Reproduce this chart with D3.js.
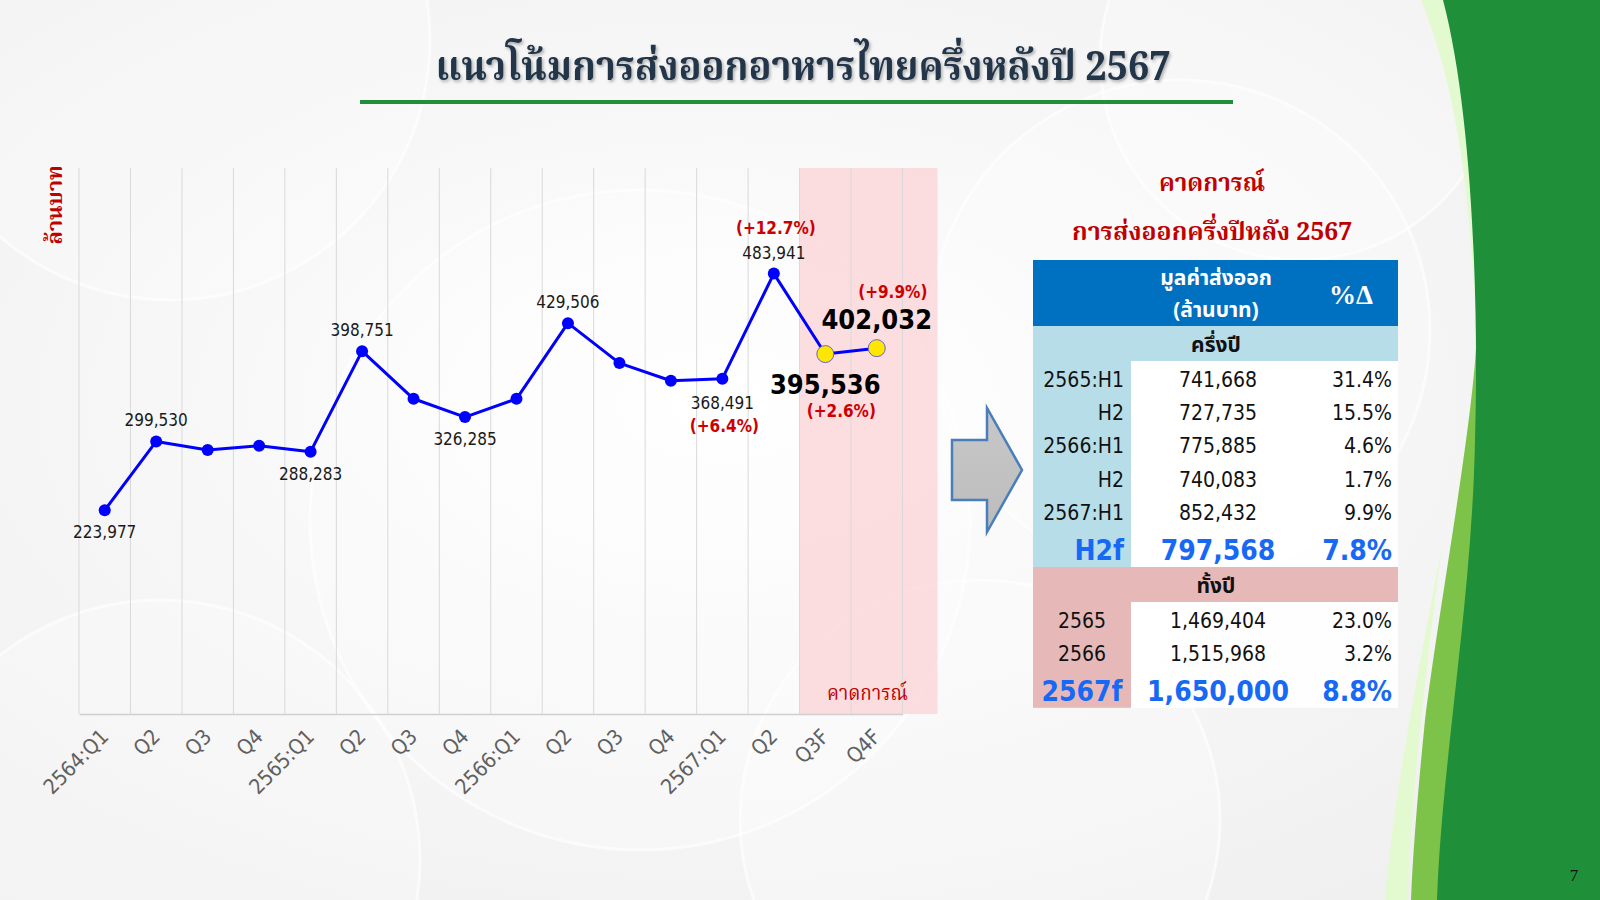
<!DOCTYPE html>
<html>
<head>
<meta charset="utf-8">
<script src="https://cdn.jsdelivr.net/npm/d3@7"></script>
<style>
  html, body { margin: 0; padding: 0; background: #fff; }
  svg { display: block; }
</style>
</head>
<body>
<svg id="slide" width="1600" height="900"></svg>
<script>
// ---- data ----
var quarters = ["2564:Q1", "Q2", "Q3", "Q4", "2565:Q1", "Q2", "Q3", "Q4",
                "2566:Q1", "Q2", "Q3", "Q4", "2567:Q1", "Q2", "Q3F", "Q4F"];
var exportValues = [223977, 299530, 290000, 294800, 288283, 398751, 346400, 326285,
                    346379, 429506, 385600, 366200, 368491, 483941, 395536, 402032];
var forecastFlags = [0, 0, 0, 0, 0, 0, 0, 0, 0, 0, 0, 0, 0, 0, 1, 1];
// which points carry a value label: "a" above, "b" below, "" none
var labelSide = ["b", "a", "", "", "b", "a", "", "b", "", "a", "", "", "b", "a", "b", "a"];
var growthLabels = ["", "", "", "", "", "", "", "", "", "", "", "", "(+6.4%)", "(+12.7%)", "(+2.6%)", "(+9.9%)"];

var halfPeriods = ["2565:H1", "H2", "2566:H1", "H2", "2567:H1", "H2f"];
var halfValues = [741668, 727735, 775885, 740083, 852432, 797568];
var halfGrowth = [31.4, 15.5, 4.6, 1.7, 9.9, 7.8];
var yearPeriods = ["2565", "2566", "2567f"];
var yearValues = [1469404, 1515968, 1650000];
var yearGrowth = [23.0, 3.2, 8.8];

var TITLE = "แนวโน้มการส่งออกอาหารไทยครึ่งหลังปี 2567";
var THAI_SERIF = "'Noto Serif Thai', 'Noto Sans Thai', 'Loma', 'Garuda', 'Tlwg Typo', sans-serif";
var THAI_SANS = "'Noto Sans Thai', 'Loma', 'Garuda', 'Tahoma', 'DejaVu Sans Condensed', 'DejaVu Sans', sans-serif";
var NUM_FONT = "'DejaVu Sans Condensed', 'DejaVu Sans', sans-serif";

var svg = d3.select("#slide");
var fmt = d3.format(",");

// ---- background ----
var defs = svg.append("defs");
var bg = defs.append("radialGradient").attr("id", "bgGrad")
  .attr("cx", "45%").attr("cy", "45%").attr("r", "75%");
bg.append("stop").attr("offset", "0%").attr("stop-color", "#ffffff");
bg.append("stop").attr("offset", "100%").attr("stop-color", "#eeeeee");

var shadow = defs.append("filter").attr("id", "tshadow")
  .attr("x", "-5%").attr("y", "-20%").attr("width", "110%").attr("height", "150%");
shadow.append("feDropShadow").attr("dx", 1.5).attr("dy", 2).attr("stdDeviation", 1.5)
  .attr("flood-color", "#000").attr("flood-opacity", 0.3);

var arrowGrad = defs.append("linearGradient").attr("id", "arrowGrad")
  .attr("x1", "0%").attr("y1", "0%").attr("x2", "0%").attr("y2", "100%");
arrowGrad.append("stop").attr("offset", "0%").attr("stop-color", "#c8c8c8");
arrowGrad.append("stop").attr("offset", "100%").attr("stop-color", "#bcbcbc");

svg.append("rect").attr("width", 1600).attr("height", 900).attr("fill", "url(#bgGrad)");

// faint swirls
var swirls = svg.append("g").attr("class", "swirls");
[[170, 40, 260], [1180, 330, 250], [640, 520, 330], [1300, 60, 200], [160, 860, 260], [980, 820, 240]]
  .forEach(function(c) {
    swirls.append("circle").attr("cx", c[0]).attr("cy", c[1]).attr("r", c[2])
      .attr("fill", "#ffffff").attr("fill-opacity", 0.25)
      .attr("stroke", "#ffffff").attr("stroke-width", 3).attr("stroke-opacity", 0.6);
  });

// right green decoration
var deco = svg.append("g").attr("class", "deco");
deco.append("path").attr("fill", "#e3fad0")
  .attr("d", "M1421,0 C1458,90 1470,200 1476,320 L1484,320 L1484,0 Z");
deco.append("path").attr("fill", "#e3fad0")
  .attr("d", "M1442,545 C1425,640 1395,780 1385,900 L1408,900 C1410,800 1425,680 1442,545 Z");
deco.append("path").attr("fill", "#7dc34a")
  .attr("d", "M1477,330 C1474,420 1440,600 1425,720 C1418,790 1413,850 1411,900 L1482,900 L1482,330 Z");
deco.append("path").attr("fill", "#208f3a")
  .attr("d", "M1443,0 C1472,110 1479,300 1475,440 C1472,600 1442,760 1437,900 L1600,900 L1600,0 Z");

svg.append("text").attr("x", 1574).attr("y", 881)
  .attr("text-anchor", "middle")
  .style("font-family", "'Liberation Serif', serif").style("font-size", "17px")
  .style("fill", "#111").text("7");

// ---- title ----
svg.append("text")
  .attr("x", 803).attr("y", 80)
  .attr("text-anchor", "middle")
  .attr("textLength", 735).attr("lengthAdjust", "spacingAndGlyphs")
  .attr("filter", "url(#tshadow)")
  .style("font-family", THAI_SERIF).style("font-size", "40px").style("font-weight", "bold")
  .style("fill", "#243649")
  .text(TITLE);

svg.append("line").attr("x1", 360).attr("x2", 1233).attr("y1", 102).attr("y2", 102)
  .attr("stroke", "#1f8f3a").attr("stroke-width", 4);

// ---- chart ----
var x = d3.scaleBand().domain(d3.range(quarters.length)).range([79, 902.5]).padding(0);
var y = d3.scaleLinear().domain([0, 600000]).range([714, 168]);
var cx = function(i) { return x(i) + x.bandwidth() / 2; };

var chart = svg.append("g").attr("class", "chart");

// forecast band
var firstF = forecastFlags.indexOf(1);
chart.append("rect")
  .attr("x", x(firstF))
  .attr("y", y.range()[1])
  .attr("width", x.range()[1] - x(firstF) + 35)
  .attr("height", y.range()[0] - y.range()[1])
  .attr("fill", "#fbd3d5").attr("fill-opacity", 0.75);

// vertical gridlines at category boundaries
var bounds = d3.range(quarters.length + 1).map(function(i) { return x.range()[0] + i * x.step(); });
chart.selectAll("line.grid").data(bounds).enter().append("line")
  .attr("class", "grid")
  .attr("x1", function(d) { return d; }).attr("x2", function(d) { return d; })
  .attr("y1", y.range()[1]).attr("y2", y.range()[0])
  .attr("stroke", "#d9d9d9").attr("stroke-width", 1);

// x axis
var xAxis = chart.append("g").attr("transform", "translate(0," + y(0) + ")")
  .call(d3.axisBottom(x).tickSize(0).tickFormat(function(i) { return quarters[i]; }));
xAxis.select(".domain").attr("stroke", "#d0d0d0").attr("stroke-width", 1.5);
xAxis.selectAll(".tick text")
  .attr("text-anchor", "end")
  .attr("transform", "translate(5,24) rotate(-45)")
  .attr("y", 0).attr("dy", 0)
  .style("font-family", NUM_FONT).style("font-size", "21px").style("fill", "#606060");

// y axis title
chart.append("text")
  .attr("transform", "translate(62,205) rotate(-90)")
  .attr("text-anchor", "middle")
  .attr("textLength", 79).attr("lengthAdjust", "spacingAndGlyphs")
  .style("font-family", THAI_SERIF).style("font-size", "22px").style("font-weight", "bold")
  .style("fill", "#c00000")
  .text("ล้านบาท");

chart.append("text")
  .attr("x", 908).attr("y", 700)
  .attr("text-anchor", "end")
  .attr("textLength", 81).attr("lengthAdjust", "spacingAndGlyphs")
  .style("font-family", THAI_SERIF).style("font-size", "21px")
  .style("fill", "#c00000")
  .text("คาดการณ์");

// line
var line = d3.line().x(function(d, i) { return cx(i); }).y(function(d) { return y(d); });
chart.append("path").datum(exportValues)
  .attr("d", line)
  .attr("fill", "none").attr("stroke", "#0000ff").attr("stroke-width", 3)
  .attr("stroke-linejoin", "round");

// markers
chart.selectAll("circle.pt").data(exportValues).enter().append("circle")
  .attr("class", "pt")
  .attr("cx", function(d, i) { return cx(i); })
  .attr("cy", function(d) { return y(d); })
  .attr("r", function(d, i) { return forecastFlags[i] ? 8.5 : 6; })
  .attr("fill", function(d, i) { return forecastFlags[i] ? "#ffe600" : "#0000ff"; })
  .attr("stroke", function(d, i) { return forecastFlags[i] ? "#6a64c8" : "none"; })
  .attr("stroke-width", 1);

// value labels
var labelled = exportValues.map(function(d, i) { return i; })
  .filter(function(i) { return labelSide[i] !== ""; });
chart.selectAll("text.val").data(labelled).enter().append("text")
  .attr("class", "val")
  .attr("x", function(i) { return cx(i); })
  .attr("y", function(i) {
    var off;
    if (forecastFlags[i]) off = labelSide[i] === "a" ? -19 : 40;
    else off = labelSide[i] === "a" ? -15 : (growthLabels[i] ? 30 : 28);
    return y(exportValues[i]) + off;
  })
  .attr("text-anchor", "middle")
  .style("font-family", NUM_FONT)
  .style("font-size", function(i) { return forecastFlags[i] ? "27px" : "17px"; })
  .style("font-weight", function(i) { return forecastFlags[i] ? "bold" : "normal"; })
  .style("fill", function(i) { return forecastFlags[i] ? "#000" : "#1a1a1a"; })
  .text(function(i) { return fmt(exportValues[i]); });

var grown = labelled.filter(function(i) { return growthLabels[i] !== ""; });
chart.selectAll("text.growth").data(grown).enter().append("text")
  .attr("class", "growth")
  .attr("x", function(i) { return cx(i) + (forecastFlags[i] ? 16 : 2); })
  .attr("y", function(i) {
    var off;
    if (forecastFlags[i]) off = labelSide[i] === "a" ? -50 : 63;
    else off = labelSide[i] === "a" ? -40 : 53;
    return y(exportValues[i]) + off;
  })
  .attr("text-anchor", "middle")
  .style("font-family", NUM_FONT).style("font-size", "17px").style("font-weight", "bold")
  .style("fill", "#cc0000")
  .text(function(i) { return growthLabels[i]; });

// ---- arrow ----
svg.append("path")
  .attr("d", "M952,440 L987,440 L987,408 L1022,470 L987,532 L987,500 L952,500 Z")
  .attr("fill", "url(#arrowGrad)").attr("stroke", "#4a7ebb").attr("stroke-width", 2.5)
  .attr("stroke-linejoin", "miter");

// ---- forecast table ----
svg.append("text").attr("x", 1212).attr("y", 191)
  .attr("text-anchor", "middle")
  .attr("textLength", 106).attr("lengthAdjust", "spacingAndGlyphs")
  .style("font-family", THAI_SERIF).style("font-size", "25px").style("font-weight", "bold")
  .style("fill", "#c00000").text("คาดการณ์");
svg.append("text").attr("x", 1212).attr("y", 240)
  .attr("text-anchor", "middle")
  .attr("textLength", 280).attr("lengthAdjust", "spacingAndGlyphs")
  .style("font-family", THAI_SERIF).style("font-size", "25px").style("font-weight", "bold")
  .style("fill", "#c00000").text("การส่งออกครึ่งปีหลัง 2567");

var T = { x0: 1033, x1: 1131, x2: 1398, hdrTop: 260, hdrBot: 326, secH: 35, rowH: 33.4, bigRowH: 39 };
var tbl = svg.append("g").attr("class", "table");

tbl.append("rect").attr("x", T.x0).attr("y", T.hdrTop).attr("width", T.x2 - T.x0)
  .attr("height", T.hdrBot - T.hdrTop).attr("fill", "#0070c0");
tbl.append("text").attr("x", 1216).attr("y", 285).attr("text-anchor", "middle")
  .style("font-family", THAI_SANS).style("font-size", "21px").style("font-weight", "bold")
  .style("fill", "#fff").text("มูลค่าส่งออก");
tbl.append("text").attr("x", 1216).attr("y", 317).attr("text-anchor", "middle")
  .style("font-family", THAI_SANS).style("font-size", "21px").style("font-weight", "bold")
  .style("fill", "#fff").text("(ล้านบาท)");
tbl.append("text").attr("x", 1351).attr("y", 304).attr("text-anchor", "middle")
  .style("font-family", "'Liberation Serif', serif").style("font-size", "27px").style("font-weight", "bold")
  .style("fill", "#fff").text("%Δ");

function section(top, rows, values, growth, secTitle, secFill, alignFirst) {
  var bodyTop = top + T.secH;
  var heights = rows.map(function(d, i) { return i === rows.length - 1 ? T.bigRowH : T.rowH; });
  var bodyH = d3.sum(heights);
  tbl.append("rect").attr("x", T.x0).attr("y", top).attr("width", T.x2 - T.x0)
    .attr("height", T.secH).attr("fill", secFill);
  tbl.append("text").attr("x", 1216).attr("y", top + 26).attr("text-anchor", "middle")
    .style("font-family", THAI_SANS).style("font-size", "21px").style("font-weight", "bold")
    .style("fill", "#111").text(secTitle);
  tbl.append("rect").attr("x", T.x0).attr("y", bodyTop).attr("width", T.x1 - T.x0)
    .attr("height", bodyH).attr("fill", secFill);
  tbl.append("rect").attr("x", T.x1).attr("y", bodyTop).attr("width", T.x2 - T.x1)
    .attr("height", bodyH).attr("fill", "#ffffff").attr("fill-opacity", 0.9);

  var offs = heights.map(function(h, i) { return d3.sum(heights.slice(0, i)); });
  var g = tbl.append("g");
  rows.forEach(function(r, i) {
    var last = i === rows.length - 1;
    var base = bodyTop + offs[i] + (last ? 32 : 25.5);
    var st = function(s) {
      return s.style("font-family", NUM_FONT)
        .style("font-size", last ? "28px" : "21px")
        .style("font-weight", last ? "bold" : "normal")
        .style("fill", last ? "#1769f5" : "#111");
    };
    st(g.append("text").attr("y", base)
      .attr("x", alignFirst === "end" ? T.x1 - 7 : (T.x0 + T.x1) / 2)
      .attr("text-anchor", alignFirst).text(r));
    st(g.append("text").attr("y", base).attr("x", 1218).attr("text-anchor", "middle")
      .text(fmt(values[i])));
    st(g.append("text").attr("y", base).attr("x", 1392).attr("text-anchor", "end")
      .text(growth[i].toFixed(1) + "%"));
  });
  return bodyTop + bodyH;
}

var afterHalf = section(T.hdrBot, halfPeriods, halfValues, halfGrowth, "ครึ่งปี", "#b7dee8", "end");
section(afterHalf, yearPeriods, yearValues, yearGrowth, "ทั้งปี", "#e6b9b8", "middle");
</script>
</body>
</html>
